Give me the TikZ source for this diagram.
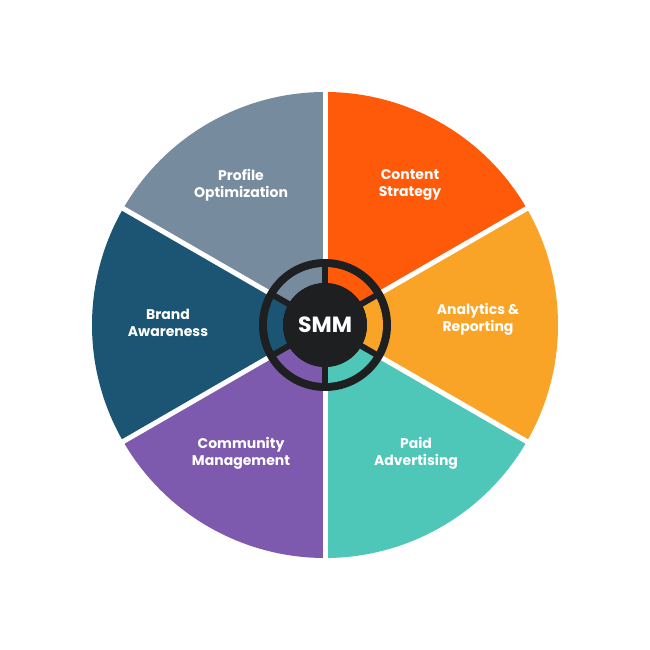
\documentclass[tikz,border=0pt]{standalone}
\usepackage{fontspec}
\setmainfont{Poppins}
\definecolor{cstrat}{HTML}{FF5A0A}
\definecolor{canaly}{HTML}{F9A426}
\definecolor{cpaid}{HTML}{4EC6B8}
\definecolor{ccomm}{HTML}{7E5AAE}
\definecolor{cbrand}{HTML}{1B5573}
\definecolor{cprof}{HTML}{778B9F}
\definecolor{hub}{HTML}{1E1F21}
\tikzset{label/.style={text=white, align=center, font=\fontsize{14}{17}\selectfont\bfseries}}
\begin{document}
\begin{tikzpicture}[x=1pt,y=1pt]
\useasboundingbox[fill=white] (-325,-325) rectangle (325,325);

% outer sectors
\foreach \a/\c in {30/cstrat,-30/canaly,-90/cpaid,-150/ccomm,150/cbrand,90/cprof}
  \fill[\c] (0,0) -- (\a:233) arc[start angle=\a, delta angle=60, radius=233] -- cycle;
\foreach \a in {30,90,150,210,270,330}
  \draw[white, line width=5] (0,0) -- (\a:240);

% hub
\fill[hub] (0,0) circle (66);
\foreach \a/\c in {30/cstrat,-30/canaly,-90/cpaid,-150/ccomm,150/cbrand,90/cprof}
  \fill[\c] (\a:42) arc[start angle=\a, delta angle=60, radius=42]
    -- (\a+60:58) arc[start angle=\a+60, delta angle=-60, radius=58] -- cycle;
\foreach \a in {30,90,150,210,270,330}
  \draw[hub, line width=6] (0,0) -- (\a:60);
\node (smm) [circle, fill=hub, minimum size=84, text=white,
    font=\fontsize{22}{26}\selectfont\bfseries] at (0,0) {SMM};

\node (strategy) [label] at (85,140) {Content\\Strategy};
\node (analytics) [label] at (153,6) {Analytics \&\\Reporting};
\node (paid) [label] at (91,-128) {Paid\\Advertising};
\node (community) [label] at (-84,-128) {Community\\Management};
\node (brand) [label] at (-157,2) {Brand\\Awareness};
\node (profile) [label] at (-84,140) {Profile\\Optimization};

\end{tikzpicture}
\end{document}
